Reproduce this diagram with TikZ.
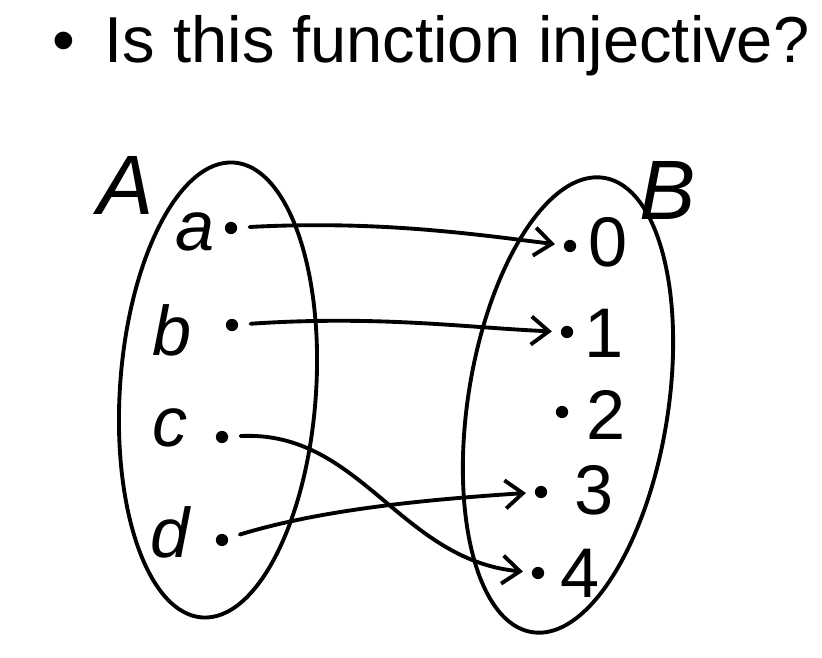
\documentclass[tikz,border=0pt]{standalone}
\usepackage{fontspec}
\setmainfont{Liberation Sans}
\usepackage{tikz}
\usetikzlibrary{arrows.meta}

\begin{document}
\begin{tikzpicture}[x=0.02cm, y=-0.02cm,
    line width=2.2pt, line cap=round,
    pt/.style={circle, fill=black, inner sep=0pt, minimum size=7pt},
    elem/.style={font=\fontsize{40}{42}\selectfont\itshape, inner sep=1pt},
    num/.style={font=\fontsize{40}{42}\selectfont, inner sep=1pt},
    setname/.style={font=\fontsize{48}{50}\selectfont\itshape},
    map/.style={-{Straight Barb[length=10pt, width=16pt]}, shorten >=4pt, shorten <=6pt}]

    \useasboundingbox (0,0) rectangle (822,658);

    % title
    \node[anchor=west, font=\fontsize{37}{40}\selectfont] (title) at (45,46) {\textbullet\hspace{0.45em}Is this function injective?};

    % the two sets
    \draw[rotate around={-4:(218,390)}] (218,390) ellipse [x radius=98, y radius=228];
    \draw[rotate around={-9:(568,405)}] (568,405) ellipse [x radius=100, y radius=230];
    \node[setname] (A) at (126,185) {A};
    \node[setname] (B) at (668,190) {B};

    % elements of A
    \node[elem] (la) at (195,232) {a};
    \node[elem] (lb) at (172,330) {b};
    \node[elem] (lc) at (170,428) {c};
    \node[elem] (ld) at (170,532) {d};
    \node[pt] (a) at (231,228) {};
    \node[pt] (b) at (232,325) {};
    \node[pt] (c) at (222,437) {};
    \node[pt] (d) at (222,540) {};

    % elements of B
    \node[pt] (p0) at (570,246) {};
    \node[pt] (p1) at (567,332) {};
    \node[pt] (p2) at (562,412) {};
    \node[pt] (p3) at (541,492) {};
    \node[pt] (p4) at (538,573) {};
    \node[num] (n0) at (608,242) {0};
    \node[num] (n1) at (604,333) {1};
    \node[num] (n2) at (606,415) {2};
    \node[num] (n3) at (594,490) {3};
    \node[num] (n4) at (580,573) {4};

    % the mapping
    \draw[map] (a) .. controls (380,220) and (480,235) .. (p0);
    \draw[map] (b) .. controls (380,315) and (470,328) .. (p1);
    \draw[map] (c) .. controls (360,430) and (400,560) .. (p4);
    \draw[map] (d) .. controls (320,510) and (420,500) .. (p3);
\end{tikzpicture}
\end{document}
